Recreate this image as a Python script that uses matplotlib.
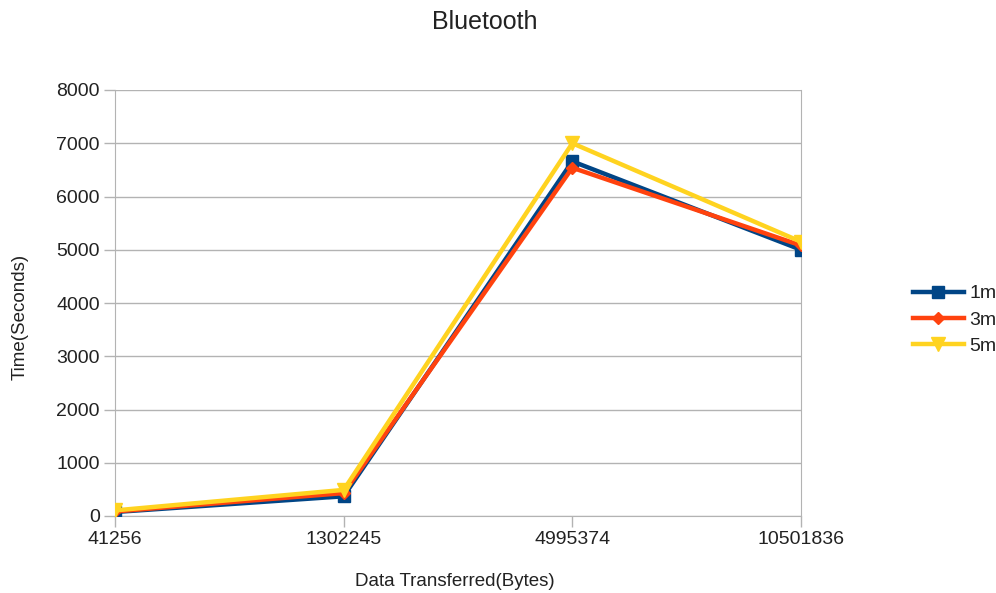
import matplotlib
matplotlib.use("Agg")
import matplotlib.pyplot as plt

categories = ["41256", "1302245", "4995374", "10501836"]
series_names = ["1m", "3m", "5m"]
s1m = [75, 370, 6660, 5000]
s3m = [85, 430, 6540, 5080]
s5m = [105, 490, 7000, 5150]
colors = ["#004586", "#ff420e", "#ffd320"]
markers = ["s", "D", "v"]
msizes = [9, 6, 10]
yticks = [0, 1000, 2000, 3000, 4000, 5000, 6000, 7000, 8000]

plt.rcParams['font.family'] = ['Liberation Sans', 'DejaVu Sans']

fig = plt.figure(figsize=(9.96, 5.93), dpi=100)
ax = fig.add_axes([115/996, 1-516/593, (801-115)/996, (516-90)/593])

x = list(range(len(categories)))
for vals, name, c, m, ms in zip([s1m, s3m, s5m], series_names, colors, markers, msizes):
    ax.plot(x, vals, color=c, lw=3.2, marker=m, markersize=ms, label=name, zorder=3)

ax.set_xlim(0, len(categories) - 1)
ax.set_ylim(0, 8000)
ax.set_xticks(x)
ax.set_xticklabels(categories, fontsize=14, color="#222222")
ax.set_yticks(yticks)
ax.set_yticklabels([str(t) for t in yticks], fontsize=14, color="#222222")
ax.yaxis.grid(True, color="#b3b3b3", lw=1)
ax.set_axisbelow(True)
for sp in ["left", "right", "bottom"]:
    ax.spines[sp].set_color("#b3b3b3")
ax.spines["top"].set_visible(False)
ax.tick_params(axis="both", color="#b3b3b3", length=8, width=1)
ax.tick_params(axis="x", pad=3)
ax.tick_params(axis="y", pad=3)

fig.text(485/996, 1-22/593, "Bluetooth", fontsize=18, color="#222222", ha="center", va="center")
fig.text(455/996, 1-582/593, "Data Transferred(Bytes)", fontsize=13.5, color="#222222", ha="center", va="center")
fig.text(20/996, 1-317/593, "Time(Seconds)", fontsize=13.5, color="#222222", ha="center", va="center", rotation=90)

leg = fig.legend(loc="center left", bbox_to_anchor=(913/996, 1-320/593), frameon=False,
                 fontsize=14, handlelength=2.6, labelspacing=0.45, handletextpad=0.3,
                 borderaxespad=0, borderpad=0)
for t in leg.get_texts():
    t.set_color("#222222")

fig.savefig("out.png", dpi=100)
